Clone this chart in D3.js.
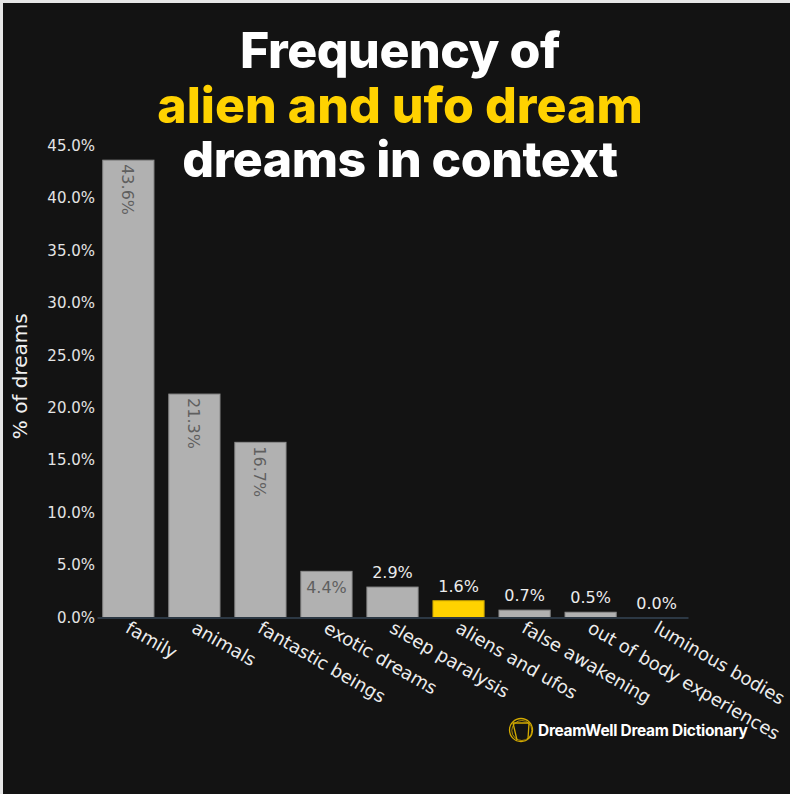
<!DOCTYPE html>
<html>
<head>
<meta charset="utf-8">
<script src="https://cdn.jsdelivr.net/npm/d3@7"></script>
<style>
  html, body { margin: 0; padding: 0; background: #e6e6e6; }
  svg { display: block; }
</style>
</head>
<body>
<svg id="chart" width="790" height="794"></svg>
<script>
// Share of dreams that mention each context alongside aliens / UFOs
const categories = ["family", "animals", "fantastic beings", "exotic dreams", "sleep paralysis",
                    "aliens and ufos", "false awakening", "out of body experiences", "luminous bodies"];
const values = [43.6, 21.3, 16.7, 4.4, 2.9, 1.6, 0.7, 0.5, 0.0];
const highlight = "aliens and ufos";
const yTicks = [0, 5, 10, 15, 20, 25, 30, 35, 40, 45];
const titleLines = [
  { text: "Frequency of", accent: false },
  { text: "alien and ufo dream", accent: true },
  { text: "dreams in context", accent: false }
];
const yLabel = "% of dreams";
const brand = "DreamWell Dream Dictionary";

const W = 790, H = 794;
const BG = "#131313", BAR = "#b1b1b1", BAR_EDGE = "#8e8e8e", ACCENT = "#ffd200";
const FONT = "'DejaVu Sans', 'Noto Sans', sans-serif";
const TITLE_FONT = "Inter, Lato, sans-serif";

const svg = d3.select("#chart");

// dark card (thin light frame left and top)
svg.append("rect").attr("x", 3).attr("y", 3).attr("width", W - 3).attr("height", H - 3).attr("fill", BG);

const x = d3.scaleBand().domain(categories).range([97, 688]).paddingInner(0.21).paddingOuter(0.08);
const y = d3.scaleLinear().domain([0, 45]).range([617.5, 145.5]);

// y axis labels
const yAxis = d3.axisLeft(y).tickValues(yTicks).tickFormat(d => d3.format(".1f")(d) + "%").tickSize(0).tickPadding(1);
const gy = svg.append("g").attr("transform", "translate(96,0)").call(yAxis);
gy.select(".domain").remove();
gy.selectAll("text").attr("fill", "#e4e4e4").style("font-family", FONT).style("font-size", "15px");

svg.append("text")
  .attr("transform", `translate(27,${y(23)}) rotate(-90)`)
  .attr("text-anchor", "middle")
  .attr("fill", "#f0f0f0")
  .style("font-family", FONT).style("font-size", "20px")
  .text(yLabel);

// bars
const data = categories.map((c, i) => ({ c, v: values[i] }));
svg.append("g").selectAll("rect").data(data).join("rect")
  .attr("x", d => x(d.c) + 0.5)
  .attr("y", d => y(d.v))
  .attr("width", x.bandwidth() - 1)
  .attr("height", d => y(0) - y(d.v))
  .attr("fill", d => d.c === highlight ? ACCENT : BAR)
  .attr("stroke", d => d.c === highlight ? "#c9a400" : BAR_EDGE)
  .attr("stroke-width", 1);

// baseline
const gx = svg.append("g").attr("transform", `translate(0,${y(0)})`)
  .call(d3.axisBottom(x).tickSize(0).tickFormat(""));
gx.select(".domain").attr("stroke", "#2c3844").attr("stroke-width", 2);

// value labels: rotated inside tall bars, inside short wide bar, above small bars
const fmt = d => d3.format(".1f")(d) + "%";
const labels = svg.append("g").style("font-family", FONT).style("font-size", "16px");
data.forEach(d => {
  const cx = x(d.c) + x.bandwidth() / 2;
  const h = y(0) - y(d.v);
  if (h > 120) {
    labels.append("text")
      .attr("transform", `translate(${cx - 6},${y(d.v) + 4}) rotate(90)`)
      .attr("text-anchor", "start")
      .attr("fill", "#5f5f5f")
      .text(fmt(d.v));
  } else if (h > 40) {
    labels.append("text")
      .attr("x", cx).attr("y", y(d.v) + 22)
      .attr("text-anchor", "middle")
      .attr("fill", "#5f5f5f")
      .text(fmt(d.v));
  } else {
    labels.append("text")
      .attr("x", cx).attr("y", y(d.v) - 9)
      .attr("text-anchor", "middle")
      .attr("fill", "#ececec")
      .text(fmt(d.v));
  }
});

// category labels
svg.append("g").selectAll("text").data(categories).join("text")
  .attr("transform", c => `translate(${x(c) + x.bandwidth() / 2 - 4},${y(0) + 14}) rotate(30)`)
  .attr("text-anchor", "start")
  .attr("fill", "#ececec")
  .style("font-family", FONT).style("font-size", "18px")
  .text(c => c);

// title
svg.append("g").selectAll("text").data(titleLines).join("text")
  .attr("x", 400)
  .attr("y", (d, i) => 68 + i * 54.5)
  .attr("text-anchor", "middle")
  .attr("fill", d => d.accent ? ACCENT : "#ffffff")
  .style("font-family", TITLE_FONT).style("font-weight", 800).style("font-size", "50px")
  .style("letter-spacing", (d, i) => i === 1 ? "0px" : "-0.5px")
  .text(d => d.text);

// brand mark
const logo = svg.append("g").attr("transform", "translate(521,730)")
  .attr("fill", "none").attr("stroke", "#d4ab00").attr("stroke-width", 1.3);
logo.append("circle").attr("r", 11.5);
logo.append("circle").attr("r", 10).attr("cx", 0.8).attr("cy", 0.5).attr("stroke-width", 0.8);
logo.append("path").attr("d", "M-8,-7 L8,-7 L7,9 M-8,-7 L-4,10");
svg.append("text")
  .attr("x", 538).attr("y", 736)
  .attr("fill", "#ffffff")
  .style("font-family", TITLE_FONT).style("font-weight", 700).style("font-size", "15.5px")
  .style("letter-spacing", "-0.3px")
  .text(brand);
</script>
</body>
</html>
